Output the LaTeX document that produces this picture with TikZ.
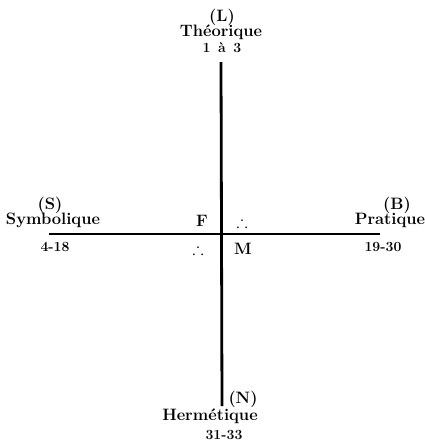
\documentclass[tikz,border=0pt]{standalone}
\usepackage{amssymb}
\usepackage{tikz}

\begin{document}
\begin{tikzpicture}[
  x=1pt, y=-1pt,
  font=\fontsize{16.5}{18}\selectfont\bfseries,
  lbl/.style={inner sep=0pt, anchor=center},
  num/.style={inner sep=0pt, anchor=center, font=\fontsize{14}{16}\selectfont\bfseries},
  axe/.style={line width=2pt},
  pil/.style={line width=2.8pt}
]
\useasboundingbox (0,0) rectangle (424,445);
% axes
\coordinate (haut) at (221,62);
\coordinate (bas) at (222,406);
\coordinate (gauche) at (49,234);
\coordinate (droite) at (380,234);
\draw[pil] (haut) -- (bas);
\draw[axe] (gauche) -- (droite);
% haut
\node[lbl] (l) at (222,17) {(L)};
\node[lbl] (theo) at (221,32) {Théorique};
\node[num] (theon) at (222,48) {1 \,à\, 3};
% gauche
\node[lbl] (s) at (50,205) {(S)};
\node[lbl] (symb) at (53,220) {Symbolique};
\node[num] (symbn) at (55,247) {4-18};
% droite
\node[lbl] (b) at (397,205) {(B)};
\node[lbl] (prat) at (390,220) {Pratique};
\node[num] (pratn) at (383,247) {19-30};
% centre
\node[lbl] (f) at (202,221) {F};
\node[lbl] (pd) at (242,222) {$\therefore$};
\node[lbl] (pg) at (198,249) {$\therefore$};
\node[lbl] (m) at (243,249) {M};
% bas
\node[lbl] (n) at (243,399) {(N)};
\node[lbl] (herm) at (210,416) {Hermétique};
\node[num] (hermn) at (224,435) {31-33};
\end{tikzpicture}
\end{document}
